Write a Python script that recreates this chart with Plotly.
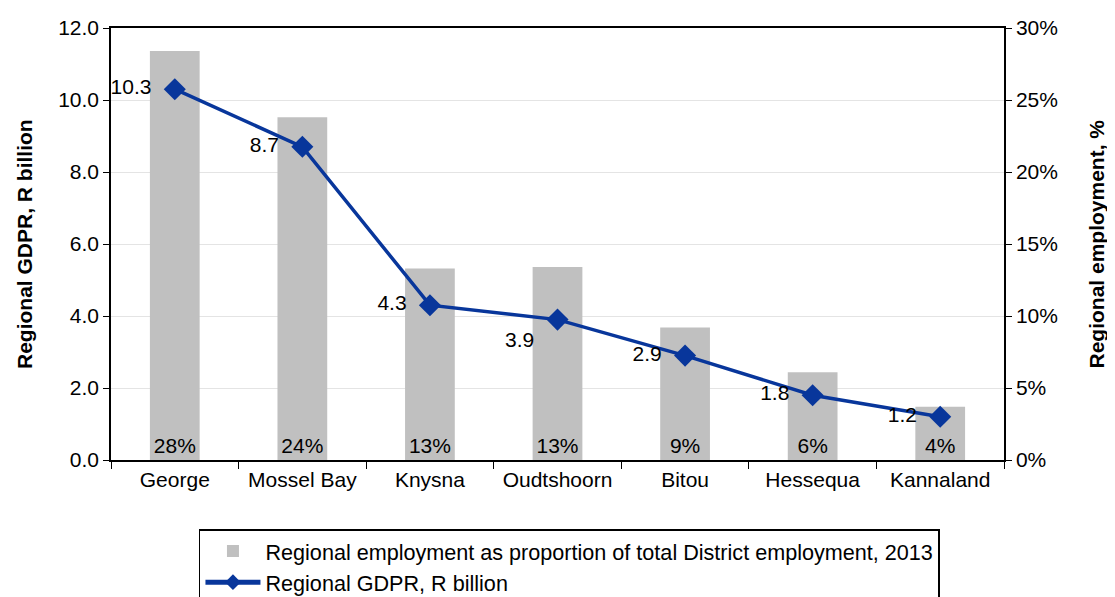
import plotly.graph_objects as go

regions = ["George", "Mossel Bay", "Knysna", "Oudtshoorn", "Bitou", "Hessequa", "Kannaland"]
employment_pct = [28.4, 23.8, 13.3, 13.4, 9.2, 6.1, 3.7]
gdpr_bn = [10.3, 8.7, 4.3, 3.9, 2.9, 1.8, 1.2]
gdpr_label_pos = ["middle left", "middle left", "middle left", "bottom left",
                  "middle left", "middle left", "middle left"]

FONT = "Liberation Sans, Arial, sans-serif"
FS = 21
BLUE = "#08369B"

fig = go.Figure()
fig.add_trace(go.Bar(
    x=regions, y=employment_pct, yaxis="y",
    name="Regional employment as proportion of total District employment, 2013",
    marker=dict(color="#C0C0C0", line=dict(width=0)),
    texttemplate="%{y:.0f}%", textposition="inside", insidetextanchor="start",
    textangle=0, constraintext="none",
    textfont=dict(family=FONT, size=FS, color="black"),
))
fig.add_trace(go.Scatter(
    x=regions, y=gdpr_bn, yaxis="y2",
    name="Regional GDPR, R billion",
    mode="lines+markers+text",
    line=dict(color=BLUE, width=3.5),
    marker=dict(symbol="diamond", size=17, color=BLUE),
    texttemplate="%{y:.1f}\u00a0\u00a0", textposition=gdpr_label_pos,
    textfont=dict(family=FONT, size=FS, color="black"),
))

fig.update_layout(
    width=1107, height=589,
    margin=dict(l=103, r=111, t=20, b=137, autoexpand=False),
    paper_bgcolor="white", plot_bgcolor="white",
    font=dict(family=FONT, size=FS, color="black"),
    bargap=0.61,
    showlegend=True,
    legend=dict(
        xref="container", yref="container",
        x=0.1725, y=0.1154, xanchor="left", yanchor="top",
        bordercolor="black", borderwidth=1.5,
        font=dict(family=FONT, size=21.6, color="black"),
        itemwidth=55, itemsizing="constant",
    ),
    xaxis=dict(
        showline=True, linecolor="black", linewidth=1.5, mirror=True,
        ticks="outside", tickson="boundaries", ticklen=7, tickcolor="black",
        showgrid=False, automargin=False,
    ),
    yaxis=dict(
        range=[0, 30], dtick=5, ticksuffix="%",
        side="right",
        showline=True, linecolor="black", linewidth=1.5,
        ticks="outside", ticklen=6, tickcolor="black",
        showgrid=True, gridcolor="#E4E4E4", gridwidth=1,
        zeroline=False, automargin=False,
    ),
    yaxis2=dict(
        range=[0, 12], dtick=2, tickformat=".1f",
        overlaying="y", side="left",
        showline=True, linecolor="black", linewidth=1.5,
        ticks="outside", ticklen=6, tickcolor="black",
        showgrid=False, zeroline=False, automargin=False,
    ),
    annotations=[
        dict(text="<b>Regional GDPR, R billion</b>", textangle=-90,
             xref="paper", yref="paper", x=-0.0974, y=0.5,
             xanchor="center", yanchor="middle", showarrow=False,
             font=dict(family=FONT, size=FS, color="black")),
        dict(text="<b>Regional employment, %</b>", textangle=-90,
             xref="paper", yref="paper", x=1.1025, y=0.5,
             xanchor="center", yanchor="middle", showarrow=False,
             font=dict(family=FONT, size=FS, color="black")),
    ],
)

fig.write_html("out.html")
